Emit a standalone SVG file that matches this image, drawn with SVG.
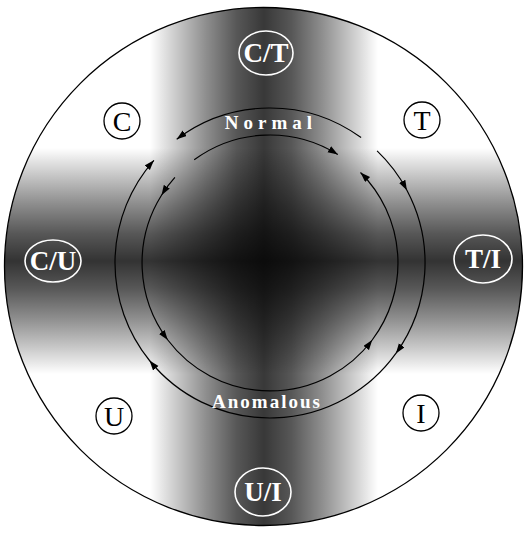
<svg xmlns="http://www.w3.org/2000/svg" width="526" height="534" viewBox="0 0 526 534">
<style>
.big{fill:none;stroke:#fff;stroke-width:1.6}
.bigt{fill:#fff;font-family:"Liberation Serif",serif;font-size:27px;font-weight:bold;text-anchor:middle}
.sm{fill:#fff;stroke:#000;stroke-width:1.3}
.smt{fill:#000;font-family:"Liberation Serif",serif;font-size:28px;text-anchor:middle}
.arc{fill:none;stroke:#000;stroke-width:1.2}
.lbl{fill:#fff;font-family:"Liberation Serif",serif;font-size:19px;font-weight:bold;text-anchor:middle}
</style>
<defs>
<clipPath id="disc"><circle cx="263.5" cy="266.5" r="259"/></clipPath>
<linearGradient id="vg" gradientUnits="userSpaceOnUse" x1="150" y1="0" x2="378" y2="0">
<stop offset="0" stop-color="#000" stop-opacity="0"/>
<stop offset="0.12" stop-color="#000" stop-opacity="0.22"/>
<stop offset="0.25" stop-color="#000" stop-opacity="0.45"/>
<stop offset="0.38" stop-color="#000" stop-opacity="0.66"/>
<stop offset="0.5" stop-color="#000" stop-opacity="0.78"/>
<stop offset="0.62" stop-color="#000" stop-opacity="0.66"/>
<stop offset="0.75" stop-color="#000" stop-opacity="0.45"/>
<stop offset="0.88" stop-color="#000" stop-opacity="0.22"/>
<stop offset="1" stop-color="#000" stop-opacity="0"/>
</linearGradient>
<linearGradient id="hg" gradientUnits="userSpaceOnUse" x1="0" y1="148" x2="0" y2="374">
<stop offset="0" stop-color="#000" stop-opacity="0"/>
<stop offset="0.12" stop-color="#000" stop-opacity="0.22"/>
<stop offset="0.25" stop-color="#000" stop-opacity="0.45"/>
<stop offset="0.38" stop-color="#000" stop-opacity="0.66"/>
<stop offset="0.5" stop-color="#000" stop-opacity="0.8"/>
<stop offset="0.62" stop-color="#000" stop-opacity="0.66"/>
<stop offset="0.75" stop-color="#000" stop-opacity="0.45"/>
<stop offset="0.88" stop-color="#000" stop-opacity="0.22"/>
<stop offset="1" stop-color="#000" stop-opacity="0"/>
</linearGradient>
<marker id="ah" markerUnits="userSpaceOnUse" markerWidth="11" markerHeight="8" refX="10" refY="3.5" orient="auto">
<path d="M0,0 L10,3.5 L0,7 z" fill="#000"/>
</marker>
</defs>
<rect width="526" height="534" fill="#fff"/>
<g id="shading" clip-path="url(#disc)">
<rect x="150" y="0" width="228" height="534" fill="url(#vg)"/>
<rect x="0" y="148" width="526" height="226" fill="url(#hg)"/>
</g>
<circle id="outer" cx="263.5" cy="266.5" r="259" fill="none" stroke="#000" stroke-width="1.3"/>
<g id="connectors">
<path class="arc" marker-mid="url(#ah)" marker-end="url(#ah)" d="M377.1,150.9 A155,155 0 0 1 406.9,190.2 A155,155 0 0 1 395.9,353.4 A155,155 0 0 1 149.5,360.5 A155,155 0 0 1 153.9,160.3"/>
<path class="arc" marker-end="url(#ah)" d="M361.1,137.6 A155,155 0 0 0 176.7,139.2"/>
<path class="arc" marker-mid="url(#ah)" marker-end="url(#ah)" d="M174.9,177.4 A128,128 0 0 0 161.5,195.2 A128,128 0 0 0 167.8,340 A128,128 0 0 0 372.2,340 A128,128 0 0 0 360.5,172.5"/>
<path class="arc" marker-end="url(#ah)" d="M194.2,159.8 A128,128 0 0 1 337.8,154.5"/>
</g>
<g id="label-normal"><text class="lbl" x="271" y="129" letter-spacing="5">Normal</text></g>
<g id="label-anomalous"><text class="lbl" x="267" y="408" letter-spacing="2">Anomalous</text></g>
<g id="node-CT"><ellipse class="big" cx="266" cy="53" rx="27" ry="22"/><text class="bigt" x="266" y="62">C/T</text></g>
<g id="node-CU"><ellipse class="big" cx="53" cy="261" rx="28" ry="21"/><text class="bigt" x="53" y="270">C/U</text></g>
<g id="node-TI"><ellipse class="big" cx="483" cy="259" rx="29" ry="24"/><text class="bigt" x="483" y="268">T/I</text></g>
<g id="node-UI"><ellipse class="big" cx="263" cy="492" rx="28" ry="24"/><text class="bigt" x="263" y="501">U/I</text></g>
<g id="node-C"><circle class="sm" cx="122" cy="121" r="18"/><text class="smt" x="122" y="131">C</text></g>
<g id="node-T"><circle class="sm" cx="422" cy="120" r="18"/><text class="smt" x="422" y="130">T</text></g>
<g id="node-U"><circle class="sm" cx="114" cy="416" r="18"/><text class="smt" x="114" y="426">U</text></g>
<g id="node-I"><circle class="sm" cx="421" cy="413" r="18"/><text class="smt" x="421" y="423">I</text></g>
</svg>
